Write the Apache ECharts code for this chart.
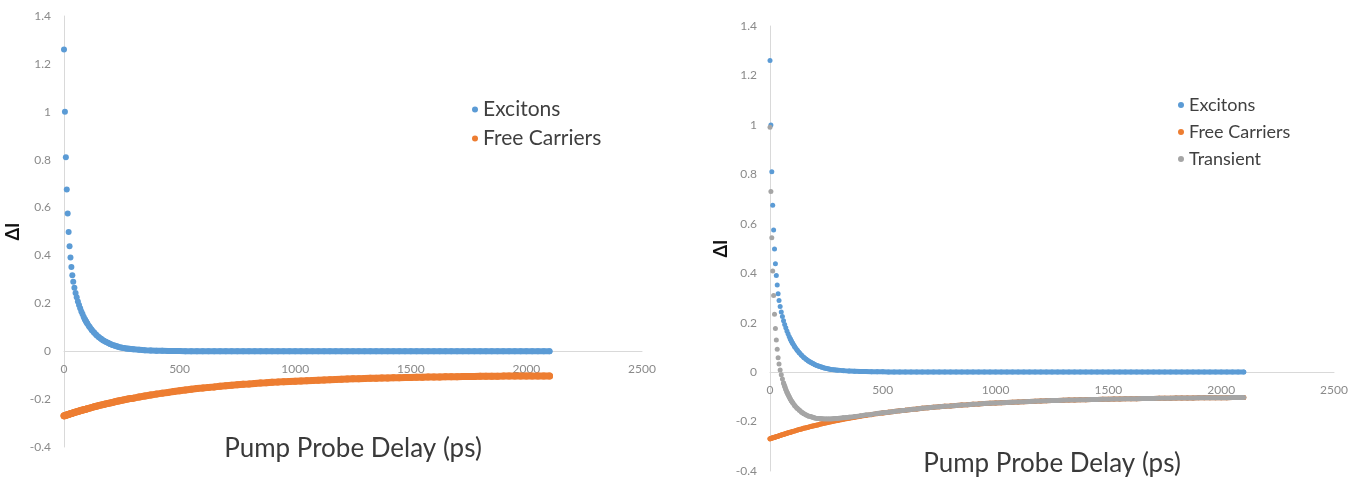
<!DOCTYPE html>
<html>
<head>
<meta charset="utf-8">
<title>Pump probe delay</title>
<script src="https://cdn.jsdelivr.net/npm/echarts@6/dist/echarts.min.js"></script>
<style>
  html, body { margin: 0; padding: 0; background: #fff; }
  #main { width: 1365px; height: 489px; }
</style>
</head>
<body>
<div id="main"></div>
<script>
// pump probe delay (ps), denser sampling at the start
var delays = [
    0, 4, 8, 12, 16, 20, 24, 28, 32, 36,
    40, 45, 50, 55, 60, 65, 70, 75, 80, 85, 90, 95, 100,
    110, 120, 130, 140, 150, 160, 170, 180, 190, 200,
    210, 220, 230, 240, 250, 260, 270, 280, 290, 300,
    325, 350, 375, 400, 425, 450, 475, 500,
    525, 550, 575, 600, 625, 650, 675, 700,
    725, 750, 775, 800, 825, 850, 875, 900,
    925, 950, 975, 1000, 1025, 1050, 1075, 1100,
    1125, 1150, 1175, 1200, 1225, 1250, 1275, 1300,
    1325, 1350, 1375, 1400, 1425, 1450, 1475, 1500,
    1525, 1550, 1575, 1600, 1625, 1650, 1675, 1700,
    1725, 1750, 1775, 1800, 1825, 1850, 1875, 1900,
    1925, 1950, 1975, 2000, 2025, 2050, 2075, 2100
];

var excitons = [
    1.26, 1.0, 0.81, 0.675, 0.575, 0.498, 0.438, 0.391, 0.352, 0.317,
    0.29, 0.265, 0.243, 0.225, 0.208, 0.193, 0.179, 0.166, 0.155, 0.144, 0.134, 0.125, 0.117,
    0.102, 0.089, 0.078, 0.068, 0.059, 0.052, 0.045, 0.04, 0.035, 0.03,
    0.026, 0.023, 0.02, 0.017, 0.015, 0.013, 0.011, 0.01, 0.009, 0.008,
    0.006, 0.004, 0.003, 0.002, 0.002, 0.001, 0.001, 0.001,
    0, 0, 0, 0, 0, 0, 0, 0,
    0, 0, 0, 0, 0, 0, 0, 0,
    0, 0, 0, 0, 0, 0, 0, 0,
    0, 0, 0, 0, 0, 0, 0, 0,
    0, 0, 0, 0, 0, 0, 0, 0,
    0, 0, 0, 0, 0, 0, 0, 0,
    0, 0, 0, 0, 0, 0, 0, 0,
    0, 0, 0, 0, 0, 0, 0, 0
];

var freeCarriers = [
    -0.270, -0.269, -0.267, -0.266, -0.265, -0.264, -0.262, -0.261, -0.260, -0.259,
    -0.257, -0.256, -0.254, -0.253, -0.252, -0.250, -0.249, -0.247, -0.246, -0.244, -0.243, -0.242, -0.240,
    -0.238, -0.235, -0.232, -0.230, -0.227, -0.225, -0.223, -0.220, -0.218, -0.216,
    -0.214, -0.211, -0.209, -0.207, -0.205, -0.203, -0.201, -0.199, -0.197, -0.196,
    -0.191, -0.187, -0.183, -0.179, -0.175, -0.172, -0.168, -0.165,
    -0.162, -0.159, -0.156, -0.154, -0.151, -0.149, -0.146, -0.144,
    -0.142, -0.140, -0.138, -0.137, -0.135, -0.133, -0.132, -0.130,
    -0.129, -0.127, -0.126, -0.125, -0.124, -0.123, -0.122, -0.121,
    -0.120, -0.119, -0.118, -0.117, -0.116, -0.115, -0.115, -0.114,
    -0.113, -0.113, -0.112, -0.112, -0.111, -0.111, -0.110, -0.110,
    -0.109, -0.109, -0.108, -0.108, -0.108, -0.107, -0.107, -0.107,
    -0.106, -0.106, -0.106, -0.105, -0.105, -0.105, -0.105, -0.104,
    -0.104, -0.104, -0.104, -0.104, -0.104, -0.103, -0.103, -0.103
];

var transient = [
    0.990, 0.731, 0.543, 0.409, 0.310, 0.234, 0.176, 0.130, 0.092, 0.058,
    0.033, 0.009, -0.011, -0.028, -0.044, -0.057, -0.070, -0.081, -0.091, -0.100, -0.109, -0.117, -0.123,
    -0.136, -0.146, -0.154, -0.162, -0.168, -0.173, -0.178, -0.180, -0.183, -0.186,
    -0.188, -0.188, -0.189, -0.190, -0.190, -0.190, -0.190, -0.189, -0.188, -0.188,
    -0.185, -0.183, -0.180, -0.177, -0.173, -0.171, -0.167, -0.164,
    -0.162, -0.159, -0.156, -0.154, -0.151, -0.149, -0.146, -0.144,
    -0.142, -0.140, -0.138, -0.137, -0.135, -0.133, -0.132, -0.130,
    -0.129, -0.127, -0.126, -0.125, -0.124, -0.123, -0.122, -0.121,
    -0.120, -0.119, -0.118, -0.117, -0.116, -0.115, -0.115, -0.114,
    -0.113, -0.113, -0.112, -0.112, -0.111, -0.111, -0.110, -0.110,
    -0.109, -0.109, -0.108, -0.108, -0.108, -0.107, -0.107, -0.107,
    -0.106, -0.106, -0.106, -0.105, -0.105, -0.105, -0.105, -0.104,
    -0.104, -0.104, -0.104, -0.104, -0.104, -0.103, -0.103, -0.103
];

var xTicks = [0, 500, 1000, 1500, 2000, 2500];
var yTicks = [-0.4, -0.2, 0, 0.2, 0.4, 0.6, 0.8, 1, 1.2, 1.4];

var BLUE = '#5b9bd5', ORANGE = '#ed7d31', GREY = '#a5a5a5';
var FONT = 'Lato, "Open Sans", sans-serif';

var W = 1365, H = 489;
var grids = [
    { left: 64, right: 723, top: 16, bottom: 42 },
    { left: 770, right: 31, top: 26, bottom: 18 }
];

function pairs(ys, from) {
    var out = [];
    for (var i = from || 0; i < delays.length; i++) out.push([delays[i], ys[i]]);
    return out;
}

// excel puts the horizontal axis (line + labels) on y = 0
function zeroOffset(g) {
    var h = H - g.top - g.bottom;
    var yMin = yTicks[0], yMax = yTicks[yTicks.length - 1];
    return -h * (0 - yMin) / (yMax - yMin);
}

function xAxisFor(idx, gap) {
    return {
        type: 'value', gridIndex: idx,
        min: xTicks[0], max: xTicks[xTicks.length - 1], interval: 500,
        offset: zeroOffset(grids[idx]),
        axisLine: { onZero: false, lineStyle: { color: '#d9d9d9', width: 1 } },
        axisTick: { show: false },
        splitLine: { show: false },
        axisLabel: {
            color: '#8a8a8a', fontSize: 12, fontFamily: FONT, margin: 12,
            formatter: function (v) { return String(v); }
        },
        name: 'Pump Probe Delay (ps)', nameLocation: 'middle', nameGap: gap,
        nameTextStyle: { color: '#3a3a3a', fontSize: 26, fontFamily: FONT }
    };
}

function yAxisFor(idx, gap) {
    return {
        type: 'value', gridIndex: idx,
        min: yTicks[0], max: yTicks[yTicks.length - 1], interval: 0.2,
        axisLine: { show: true, onZero: false, lineStyle: { color: '#d9d9d9', width: 1 } },
        axisTick: { show: false },
        splitLine: { show: false },
        axisLabel: { color: '#8a8a8a', fontSize: 12, fontFamily: FONT, margin: 13 },
        name: 'ΔI', nameLocation: 'middle', nameGap: gap, nameRotate: 90,
        nameTextStyle: { color: '#111', fontSize: 18, fontWeight: 'bold', fontFamily: FONT }
    };
}

function dots(name, ys, color, idx, size) {
    return {
        name: name, type: 'scatter',
        xAxisIndex: idx, yAxisIndex: idx,
        data: pairs(ys),
        symbol: 'circle', symbolSize: size,
        itemStyle: { color: color, opacity: 1 },
        animation: false
    };
}

// where the dots sit so close they merge into one thick band
function band(name, ys, color, idx, width, from) {
    return {
        name: name, type: 'line',
        xAxisIndex: idx, yAxisIndex: idx,
        data: pairs(ys, from),
        showSymbol: false, silent: true,
        lineStyle: { color: color, width: width, cap: 'round', join: 'round' },
        itemStyle: { color: color },
        animation: false
    };
}

var chart = echarts.init(document.getElementById('main'));
chart.setOption({
    backgroundColor: '#fff',
    grid: grids.map(function (g) {
        return { left: g.left, right: g.right, top: g.top, bottom: g.bottom,
                 containLabel: false, outerBoundsMode: 'none' };
    }),
    xAxis: [xAxisFor(0, 84), xAxisFor(1, 78)],
    yAxis: [yAxisFor(0, 42), yAxisFor(1, 40)],
    legend: [
        {
            data: ['Excitons', 'Free Carriers'],
            orient: 'vertical', left: 467, top: 94, itemGap: 8,
            icon: 'circle', itemWidth: 6, itemHeight: 6,
            textStyle: { color: '#404040', fontSize: 21, fontFamily: FONT }
        },
        {
            data: ['Excitons', 'Free Carriers', 'Transient'],
            orient: 'vertical', left: 1173, top: 91, itemGap: 9,
            icon: 'circle', itemWidth: 6, itemHeight: 6,
            textStyle: { color: '#404040', fontSize: 18, fontFamily: FONT }
        }
    ],
    series: [
        band('Excitons', excitons, BLUE, 0, 6, 20),
        dots('Excitons', excitons, BLUE, 0, 6),
        band('Free Carriers', freeCarriers, ORANGE, 0, 7, 0),
        dots('Free Carriers', freeCarriers, ORANGE, 0, 7),
        band('Excitons', excitons, BLUE, 1, 5, 20),
        dots('Excitons', excitons, BLUE, 1, 5),
        band('Free Carriers', freeCarriers, ORANGE, 1, 5, 0),
        dots('Free Carriers', freeCarriers, ORANGE, 1, 5),
        band('Transient', transient, GREY, 1, 5, 14),
        dots('Transient', transient, GREY, 1, 5)
    ]
});
</script>
</body>
</html>
